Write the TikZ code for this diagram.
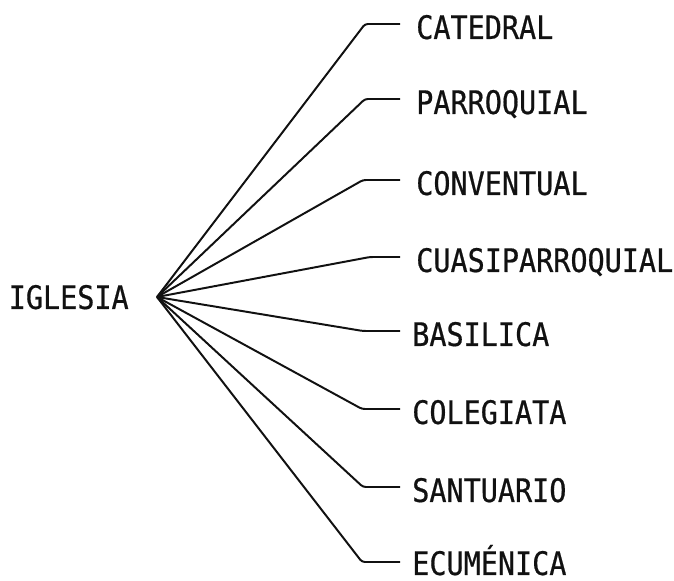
\documentclass[tikz,border=0pt]{standalone}
\usepackage{fontspec}
\usetikzlibrary{positioning}
\newfontfamily\maquina[FakeStretch=0.88, FakeBold=0.6]{DejaVu Sans Mono}
\definecolor{tinta}{HTML}{111111}

\begin{document}
\begin{tikzpicture}[x=0.25mm, y=-0.25mm,
    palabra/.style={font=\maquina\fontsize{23}{23}\selectfont, text=tinta,
      inner sep=0pt, text height=17pt, text depth=0pt},
    hoja/.style={palabra, yshift=-0.75mm},
    linea/.style={tinta, line width=1.4pt, rounded corners=2pt}]
    \useasboundingbox (0,0) rectangle (674,581);

    % raiz
    \coordinate (raiz) at (157,297);
    \node[palabra, left=7mm of raiz] (iglesia) {IGLESIA};

    % extremos de las ramas
    \coordinate (fCatedral) at (400,24);
    \coordinate (fParroquial) at (400,99);
    \coordinate (fConventual) at (400,180);
    \coordinate (fCuasi) at (400,257);
    \coordinate (fBasilica) at (400,331);
    \coordinate (fColegiata) at (400,409);
    \coordinate (fSantuario) at (400,487);
    \coordinate (fEcumenica) at (400,562);

    % tipos de iglesia
    \node[hoja, right=4mm of fCatedral] (catedral) {CATEDRAL};
    \node[hoja, right=4mm of fParroquial] (parroquial) {PARROQUIAL};
    \node[hoja, right=4mm of fConventual] (conventual) {CONVENTUAL};
    \node[hoja, right=4mm of fCuasi] (cuasi) {CUASIPARROQUIAL};
    \node[hoja, right=3mm of fBasilica] (basilica) {BASILICA};
    \node[hoja, right=3mm of fColegiata] (colegiata) {COLEGIATA};
    \node[hoja, right=3mm of fSantuario] (santuario) {SANTUARIO};
    \node[hoja, right=3mm of fEcumenica, yshift=0.5mm] (ecumenica) {ECUMÉNICA};

    % ramas
    \draw[linea] (raiz) -- (365,24) -- (fCatedral);
    \draw[linea] (raiz) -- (365,99) -- (fParroquial);
    \draw[linea] (raiz) -- (363,180) -- (fConventual);
    \draw[linea] (raiz) -- (370,257) -- (fCuasi);
    \draw[linea] (raiz) -- (363,331) -- (fBasilica);
    \draw[linea] (raiz) -- (362,409) -- (fColegiata);
    \draw[linea] (raiz) -- (363,487) -- (fSantuario);
    \draw[linea] (raiz) -- (362,562) -- (fEcumenica);
  \end{tikzpicture}
\end{document}
